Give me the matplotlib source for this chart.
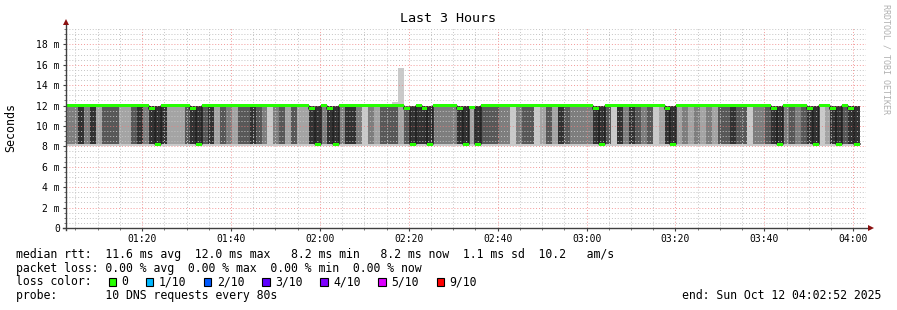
import matplotlib
matplotlib.use("Agg")
import matplotlib.pyplot as plt
import numpy as np
from matplotlib.patches import Rectangle
from matplotlib.ticker import MultipleLocator, FuncFormatter

# ---------------- data ----------------
T0 = 1 * 3600 + 2 * 60 + 52          # 01:02:52 (seconds since midnight)
T1 = 4 * 3600 + 2 * 60 + 52          # 04:02:52
STEP = 80                             # probe step (s)

# number of the 10 pings (per step) in the fast (~8.2 ms) cluster
n_fast = [3, 3, 5, 3, 5, 2, 4, 4, 4, 2, 2, 4, 5, 3, 5, 5, 5, 2, 2, 2,
          4, 5, 5, 4, 5, 2, 4, 3, 2, 4, 4, 5, 4, 3, 1, 3, 4, 2, 4, 2,
          2, 5, 5, 3, 5, 5, 3, 5, 5, 3, 1, 3, 2, 4, 4, 4, 2, 4, 5, 5,
          5, 5, 3, 3, 3, 3, 5, 5, 2, 5, 4, 4, 4, 3, 3, 1, 3, 4, 4, 1,
          2, 4, 2, 5, 4, 3, 3, 3, 3, 5, 5, 4, 1, 5, 3, 5, 4, 3, 4, 1,
          2, 5, 5, 2, 3, 2, 3, 2, 3, 2, 4, 4, 5, 4, 4, 1, 3, 3, 4, 5,
          5, 3, 4, 3, 4, 5, 5, 1, 2, 5, 5, 4, 5, 5]

median_ms = [12.0, 12.0, 12.0, 12.0, 12.0, 12.0, 12.0, 12.0, 12.0, 12.0,
             12.0, 12.0, 12.0, 12.0, 11.7, 8.2, 12.0, 12.0, 12.0, 12.0,
             12.0, 11.7, 8.2, 12.0, 12.0, 12.0, 12.0, 12.0, 12.0, 12.0,
             12.0, 12.0, 12.0, 12.0, 12.0, 12.0, 12.0, 12.0, 12.0, 12.0,
             12.0, 11.7, 8.2, 12.0, 11.7, 8.2, 12.0, 12.0, 12.0, 12.0,
             12.0, 12.0, 12.0, 12.0, 12.0, 12.0, 12.0, 11.7, 8.2, 12.0,
             11.7, 8.2, 12.0, 12.0, 12.0, 12.0, 11.7, 8.2, 11.8, 8.2,
             12.0, 12.0, 12.0, 12.0, 12.0, 12.0, 12.0, 12.0, 12.0, 12.0,
             12.0, 12.0, 12.0, 12.0, 12.0, 12.0, 12.0, 12.0, 12.0, 11.7,
             8.2, 12.0, 12.0, 12.0, 12.0, 12.0, 12.0, 12.0, 12.0, 12.0,
             12.0, 11.7, 8.2, 12.0, 12.0, 12.0, 12.0, 12.0, 12.0, 12.0,
             12.0, 12.0, 12.0, 12.0, 12.0, 12.0, 12.0, 12.0, 12.0, 11.7,
             8.2, 12.0, 12.0, 12.0, 12.0, 11.7, 8.2, 12.0, 12.0, 11.7,
             8.2, 12.0, 11.7, 8.2]

floor_ms = 8.0      # fastest ping of a step
fast_ms = 8.2       # fast cluster
slow_ms = 11.95     # slow cluster
ceil_ms = 12.0      # slowest ping of a step
max_override = {55: 12.3, 56: 15.7}   # steps with a slower outlier

y_ticks = [0, 2, 4, 6, 8, 10, 12, 14, 16, 18]
x_tick_labels = ["01:20", "01:40", "02:00", "02:20", "02:40",
                 "03:00", "03:20", "03:40", "04:00"]

loss_labels = ["0", "1/10", "2/10", "3/10", "4/10", "5/10", "9/10"]
loss_colors = ["#26ff00", "#00b8ff", "#0059ff", "#5e00ff", "#7e00ff",
               "#dd00ff", "#ff0000"]

legend_lines = [
    "median rtt:  11.6 ms avg  12.0 ms max   8.2 ms min   8.2 ms now  1.1 ms sd  10.2   am/s",
    "packet loss: 0.00 % avg  0.00 % max  0.00 % min  0.00 % now",
    "loss color:",
    "probe:       10 DNS requests every 80s",
]
end_text = "end: Sun Oct 12 04:02:52 2025"
title = "Last 3 Hours"

# ---------------- figure ----------------
W, H = 897, 310
MONO = "DejaVu Sans Mono"
fig = plt.figure(figsize=(W / 100, H / 100), dpi=100)
fig.patch.set_facecolor("white")

PL, PR, PB, PT = 66, 866, 228, 28
ax = fig.add_axes([PL / W, (H - PB) / H, (PR - PL) / W, (PB - PT) / H])
ax.set_facecolor("white")
ax.set_xlim(T0, T1)
ax.set_ylim(0, 19.6)

# smoke
n = len(n_fast)
starts = T0 + STEP * np.arange(n)
edges = np.append(starts, starts[-1] + STEP)
pings = np.zeros((n, 10))
for k, nf in enumerate(n_fast):
    row = [fast_ms] * nf + [slow_ms] * (10 - nf)
    row[0] = floor_ms
    row[-1] = max_override.get(k, ceil_ms)
    pings[k] = sorted(row)

half = 5
for i in range(1, half + 1):
    g = int(190 / half * (half - i)) + 50
    lo = pings[:, i - 1]
    hi = pings[:, 10 - i]
    ax.fill_between(edges, np.append(lo, lo[-1]), np.append(hi, hi[-1]),
                    step="post", color=(g / 255,) * 3, lw=0, zorder=1,
                    antialiased=False)

med = np.array(median_ms)
ax.step(edges, np.append(med, med[-1]), where="post", color="#202020",
        lw=1.1, zorder=3)
sw = 0.13
ax.fill_between(edges, np.append(med - sw, med[-1] - sw),
                np.append(med + sw, med[-1] + sw), step="post",
                color="#26ff00", lw=0, zorder=4)

# grid / ticks
major_x = [4800 + 1200 * i for i in range(len(x_tick_labels))]
ax.set_xticks(major_x)
ax.set_xticklabels(x_tick_labels)
ax.xaxis.set_minor_locator(MultipleLocator(300))
ax.set_yticks(y_ticks)
ax.yaxis.set_major_formatter(FuncFormatter(lambda v, p: "0" if v == 0 else f"{int(v)} m"))
ax.yaxis.set_minor_locator(MultipleLocator(0.5))
ax.set_axisbelow(False)
ax.grid(which="major", color="#f08080", linestyle=(0, (1, 2)), lw=0.7, alpha=0.8)
ax.grid(which="minor", color="#c4c4c4", linestyle=(0, (1, 2)), lw=0.7)
ax.tick_params(which="major", direction="out", length=2.2, width=0.8,
               color="#404040", labelsize=7, pad=2.2)
ax.tick_params(which="minor", direction="out", length=1.2, width=0.6,
               color="#606060")
for lab in ax.get_xticklabels() + ax.get_yticklabels():
    lab.set_fontfamily(MONO)
for s in ax.spines.values():
    s.set_visible(False)

# overlay in pixel coordinates
ov = fig.add_axes([0, 0, 1, 1], zorder=10)
ov.set_xlim(0, W)
ov.set_ylim(H, 0)
ov.axis("off")
ov.patch.set_alpha(0)

ov.plot([PL, PL], [PB + 2, 24], color="#404040", lw=1)
ov.plot([PL - 3, 870], [PB, PB], color="#404040", lw=1)
ov.plot([PL], [22], marker="^", color="#8b1010", markersize=4.5, mew=0)
ov.plot([871], [PB], marker=">", color="#8b1010", markersize=4.5, mew=0)

ov.text(448, 19, title, family=MONO, fontsize=9.6, ha="center", va="center")
ov.text(11, 127, "Seconds", family=MONO, fontsize=8.4, rotation=90,
        ha="center", va="center")
ov.text(886, 4, "RRDTOOL / TOBI OETIKER", family=MONO, fontsize=6,
        color="#b0b0b0", rotation=270, ha="center", va="top")

row_y = [254.7, 268.3, 281.9, 295.5]
FS = 8.32
CW = 7.0
for txt, yy in zip(legend_lines, row_y):
    ov.text(16, yy, txt, family=MONO, fontsize=FS, ha="left", va="center")
ov.text(881, row_y[3], end_text, family=MONO, fontsize=FS, ha="right", va="center")

xx = 108.5
for lab, col in zip(loss_labels, loss_colors):
    ov.add_patch(Rectangle((xx, row_y[2] - 4), 7.5, 8, facecolor=col,
                           edgecolor="black", lw=0.8))
    ov.text(xx + 13, row_y[2], lab, family=MONO, fontsize=FS, ha="left", va="center")
    xx += CW * len(lab) + 30.2

fig.savefig("out.png", dpi=100, facecolor="white")
